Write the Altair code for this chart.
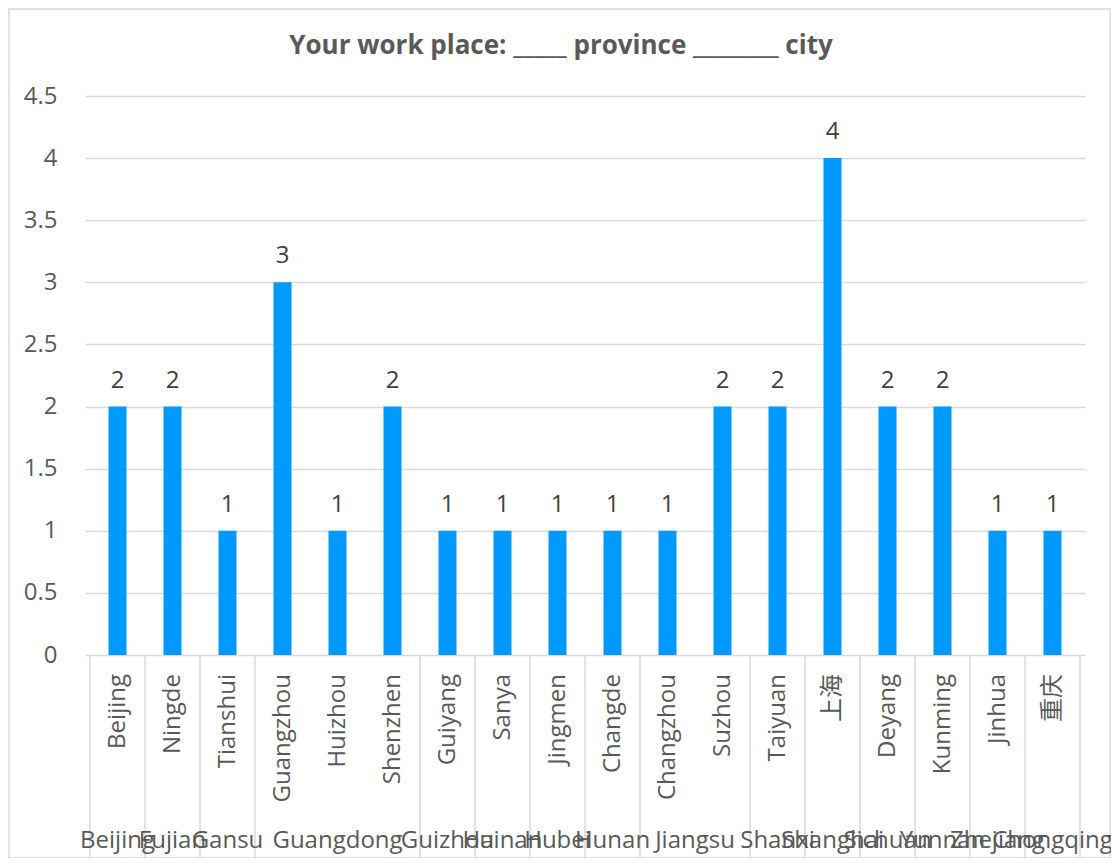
import altair as alt
import pandas as pd

cities = ["Beijing", "Ningde", "Tianshui", "Guangzhou", "Huizhou", "Shenzhen",
          "Guiyang", "Sanya", "Jingmen", "Changde", "Changzhou", "Suzhou",
          "Taiyuan", "上海", "Deyang", "Kunming", "Jinhua", "重庆"]
provinces = ["Beijing", "Fujian", "Gansu", "Guangdong", "Guangdong", "Guangdong",
             "Guizhou", "Hainan", "Hubei", "Hunan", "Jiangsu", "Jiangsu",
             "Shanxi", "Shanghai", "Sichuan", "Yunnan", "Zhejiang", "Chongqing"]
counts = [2, 2, 1, 3, 1, 2, 1, 1, 1, 1, 1, 2, 2, 4, 2, 2, 1, 1]
y_ticks = [0, 0.5, 1, 1.5, 2, 2.5, 3, 3.5, 4, 4.5]
title_text = "Your work place: _____ province ________ city"

FONT = "Open Sans, Noto Sans CJK SC, sans-serif"
GRID = "#d9d9d9"
TXT = "#595959"
FS = 24

df = pd.DataFrame({"city": cities, "province": provinces, "count": counts})
df["pos"] = [i + 0.5 for i in range(len(df))]

prov = (df.groupby("province", sort=False)
          .agg(center=("pos", "mean"), n=("pos", "size"))
          .reset_index())
prov["end"] = prov["n"].cumsum()
bounds = pd.DataFrame({"b": [0] + list(prov["end"])})

xs = alt.Scale(domain=[0, len(cities)], nice=False, zero=False)
X = alt.X("pos:Q", scale=xs, axis=None)

base = alt.Chart(df)

bars = base.mark_bar(size=18, color="#0099FF", orient="vertical").encode(
    x=X,
    y=alt.Y("count:Q",
            scale=alt.Scale(domain=[0, 4.5], nice=False),
            axis=alt.Axis(values=y_ticks, format="~g", grid=True, gridColor=GRID,
                          gridWidth=1.3, domain=False, ticks=False, tickSize=0,
                          labelPadding=28, labelFont=FONT, labelFontSize=FS,
                          labelColor=TXT, title=None)),
)

values = base.mark_text(baseline="alphabetic", dy=-19, font=FONT, fontSize=FS,
                        color="#404040").encode(
    x=X, y=alt.Y("count:Q"), text=alt.Text("count:Q"))

city_lbl = base.mark_text(angle=270, align="right", baseline="middle", font=FONT,
                          fontSize=FS, color=TXT).encode(
    x=X, y=alt.value(578), text="city:N")

prov_lbl = alt.Chart(prov).mark_text(align="center", baseline="alphabetic",
                                     font=FONT, fontSize=FS, color=TXT).encode(
    x=alt.X("center:Q", scale=xs, axis=None), y=alt.value(752), text="province:N")

seps = alt.Chart(bounds).mark_rule(color=GRID, strokeWidth=1.5).encode(
    x=alt.X("b:Q", scale=xs, axis=None), y=alt.value(559), y2=alt.value(761))

one = pd.DataFrame({"t": [title_text]})

border = alt.Chart(one).mark_rect(
    filled=False, stroke=GRID, strokeWidth=1.5).encode(
    x=alt.value(-76), x2=alt.value(1025), y=alt.value(-87), y2=alt.value(762))

title = alt.Chart(one).mark_text(align="center", baseline="alphabetic", font=FONT,
                                 fontSize=26, fontWeight="bold", color=TXT).encode(
    x=alt.value(476), y=alt.value(-42), text="t:N")

chart = alt.layer(border, seps, bars, values, city_lbl, prov_lbl, title).properties(
    width=1000, height=559,
    autosize=alt.AutoSizeParams(type="none"),
    padding={"left": 77, "top": 88, "right": 26, "bottom": 203},
).configure(background="white",
            view=alt.ViewConfig(stroke="transparent", strokeWidth=0))

chart.save("out.html", embed_options={"renderer": "svg", "actions": False})
